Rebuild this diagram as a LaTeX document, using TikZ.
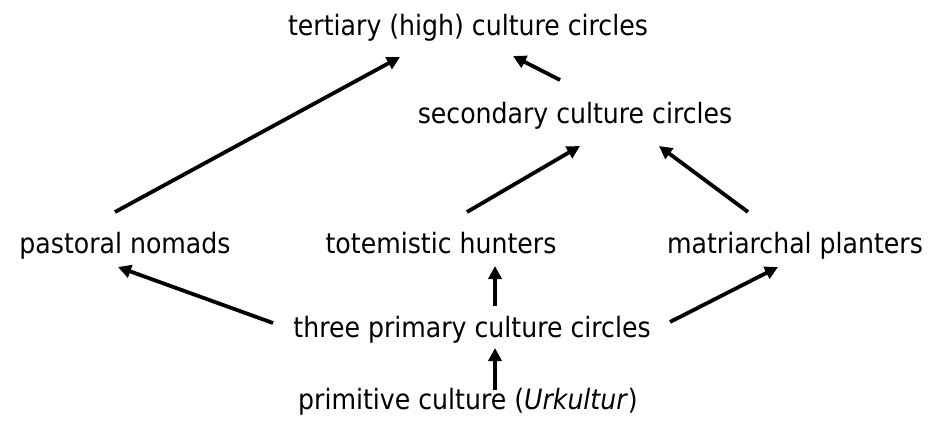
\documentclass[tikz,border=0pt]{standalone}
\usepackage{fontspec}
\setmainfont{DejaVu Sans Condensed}
\usetikzlibrary{arrows.meta}
\begin{document}
\begin{tikzpicture}[x=1pt, y=-1pt, font=\fontsize{28}{32}\selectfont,
    lbl/.style={inner sep=0pt, anchor=base},
    link/.style={line width=3.8pt, -{Triangle[length=13pt, width=13pt]}}]
      \useasboundingbox (0,0) rectangle (939,425);
      \def\rowa{36}% baselines
      \def\rowb{124}
      \def\rowc{253}
      \def\rowd{337}
      \def\rowe{409}
      % -------------------------------------------- labels
      \node[lbl] at (468,\rowa) (tertiary) {tertiary (high) culture circles};
      \node[lbl] at (575,\rowb) (secondary) {secondary culture circles};
      \node[lbl] at (125,\rowc) (nomads) {pastoral nomads};
      \node[lbl] at (441,\rowc) (hunters) {totemistic hunters};
      \node[lbl] at (795,\rowc) (planters) {matriarchal planters};
      \node[lbl] at (472,\rowd) (primary) {three primary culture circles};
      \node[lbl] at (468,\rowe) (primitive) {primitive culture (\textit{Urkultur})};
      % -------------------------------------------- arrow ends
      \coordinate (nomads_up) at (115,212);
      \coordinate (tert_l) at (400,57);
      \coordinate (sec_up) at (560,80);
      \coordinate (tert_r) at (513,56);
      \coordinate (hunt_up) at (467,212);
      \coordinate (sec_l) at (580,146);
      \coordinate (plant_up) at (748,212);
      \coordinate (sec_r) at (659,146);
      \coordinate (prim_l) at (273,323);
      \coordinate (nomads_dn) at (118,267);
      \coordinate (prim_r) at (670,322);
      \coordinate (plant_dn) at (778,267);
      \coordinate (prim_up) at (495,306);
      \coordinate (hunt_dn) at (495,266);
      \coordinate (primi_up) at (495,390);
      \coordinate (prim_dn) at (495,348);
      % -------------------------------------------- draw edges
      \draw[link] (nomads_up) -- (tert_l);
      \draw[link] (sec_up) -- (tert_r);
      \draw[link] (hunt_up) -- (sec_l);
      \draw[link] (plant_up) -- (sec_r);
      \draw[link] (prim_l) -- (nomads_dn);
      \draw[link] (prim_r) -- (plant_dn);
      \draw[link] (prim_up) -- (hunt_dn);
      \draw[link] (primi_up) -- (prim_dn);
\end{tikzpicture}
\end{document}
